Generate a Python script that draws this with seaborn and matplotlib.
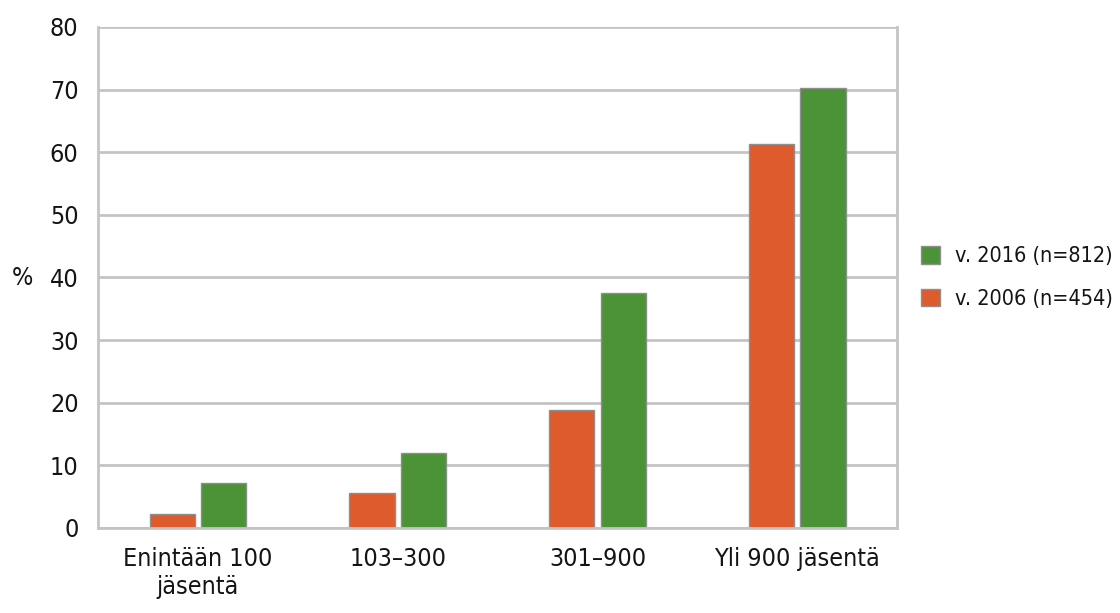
import matplotlib
matplotlib.use("Agg")
import matplotlib.pyplot as plt
from matplotlib import font_manager
import seaborn as sns
import pandas as pd

categories = ["Enintään 100\njäsentä", "103–300", "301–900", "Yli 900 jäsentä"]
series_2006 = [2.3, 5.6, 18.8, 61.3]
series_2016 = [7.2, 12.0, 37.5, 70.2]
label_2006 = "v. 2006 (n=454)"
label_2016 = "v. 2016 (n=812)"
yticks = [0, 10, 20, 30, 40, 50, 60, 70, 80]

df = pd.DataFrame({
    "Ryhmä": categories * 2,
    "Osuus": series_2006 + series_2016,
    "Vuosi": [label_2006] * len(categories) + [label_2016] * len(categories),
})

# Prefer a narrow sans face if one is available
narrow = None
for f in font_manager.fontManager.ttflist:
    tag = (f.name + " " + str(f.stretch) + " " + f.fname).lower()
    if ("condensed" in tag or "narrow" in tag) and "mono" not in tag and "serif" not in tag.replace("sans", "") \
            and f.weight in (400, "normal", "regular"):
        narrow = f
        break

sns.set_theme(style="white")
if narrow is not None:
    plt.rcParams["font.family"] = [narrow.name, "DejaVu Sans"]
    plt.rcParams["font.stretch"] = narrow.stretch
    base, leg = 18, 15.5
else:
    plt.rcParams["font.family"] = ["Roboto", "DejaVu Sans"]
    base, leg = 15, 14

text_color = "#141414"

fig = plt.figure(figsize=(11.2, 6.13), dpi=100)
ax = fig.add_axes([0.0875, 0.1387, 0.7135, 0.8173])

palette = {label_2006: "#DE5B2D", label_2016: "#4B9336"}
sns.barplot(data=df, x="Ryhmä", y="Osuus", hue="Vuosi",
            hue_order=[label_2006, label_2016], palette=palette,
            width=0.515, gap=0.12, edgecolor="#8f8f8f", linewidth=1.0,
            saturation=1, ax=ax, legend=True)

ax.set_ylim(0, 80)
ax.set_xlim(-0.5, 3.5)
ax.set_yticks(yticks)
ax.set_yticklabels([str(v) for v in yticks])
ax.yaxis.grid(True, color="#c4c4c4", linewidth=2)
ax.set_axisbelow(True)
for side in ["left", "right", "bottom"]:
    ax.spines[side].set_color("#c4c4c4")
    ax.spines[side].set_linewidth(2)
ax.spines["top"].set_visible(False)
ax.tick_params(axis="y", length=0, pad=14, labelsize=base, colors=text_color)
ax.tick_params(axis="x", length=0, pad=14, labelsize=base, colors=text_color)
ax.set_xlabel("")
ax.set_ylabel("")
fig.text(22 / 1120, 1 - 278 / 613, "%", fontsize=base, color=text_color,
         ha="center", va="center")

handles, labels = ax.get_legend_handles_labels()
ax.legend([handles[1], handles[0]], [labels[1], labels[0]],
          loc="center left", bbox_to_anchor=(0.815, 0.547),
          bbox_transform=fig.transFigure, frameon=False, fontsize=leg,
          handlelength=0.85, handleheight=0.85, handletextpad=0.7,
          labelspacing=1.05, borderaxespad=0)
for t in ax.get_legend().get_texts():
    t.set_color(text_color)

fig.savefig("out.png", dpi=100)
